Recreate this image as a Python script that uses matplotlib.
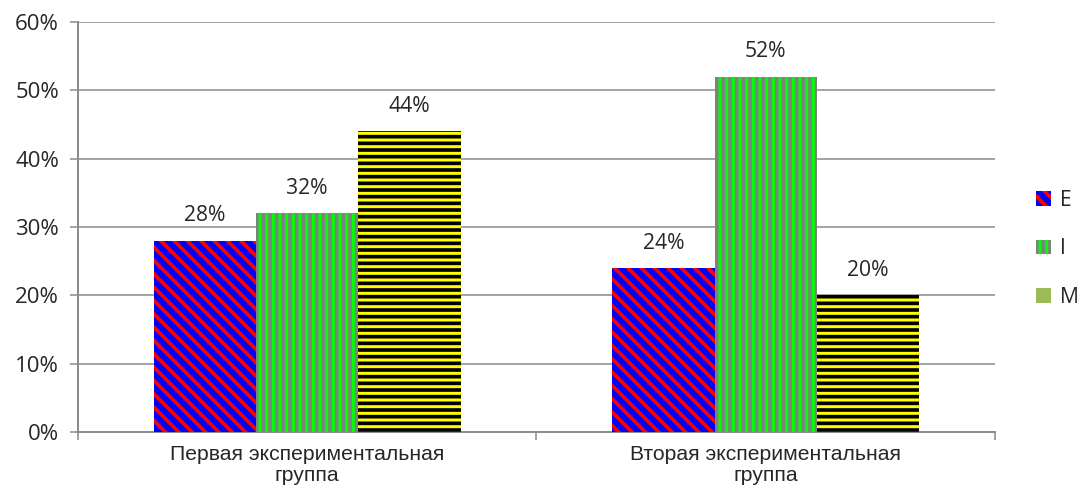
import numpy as np
import matplotlib
matplotlib.use('Agg')
import matplotlib.pyplot as plt
from matplotlib.patches import Patch
from matplotlib.ticker import PercentFormatter

# data
groups = ['Первая экспериментальная\nгруппа', 'Вторая экспериментальная\nгруппа']
series = ['E', 'I', 'M']
values_e = [28, 24]
values_i = [32, 52]
values_m = [44, 20]

plt.rcParams['font.family'] = ['Open Sans', 'DejaVu Sans']
plt.rcParams['hatch.linewidth'] = 3.3

# dpi 80 so the hatch cell (one inch) gives stripe spacing close to the original
DPI = 80
fig = plt.figure(figsize=(1080 / DPI, 486 / DPI), dpi=DPI)
ax = fig.add_axes([0.0722, 0.111, 0.8491, 0.8436])

x = np.arange(len(groups))
w = 0.223
styles = [
    dict(color='#0000ff', edgecolor='#ff0000', hatch='\\\\'),
    dict(color='#00ff00', edgecolor='#808080', hatch='||'),
    dict(color='#ffff00', edgecolor='#000000', hatch='--'),
]
for j, vals in enumerate([values_e, values_i, values_m]):
    bars = ax.bar(x + (j - 1) * w, vals, w, linewidth=0, zorder=3, **styles[j])
    for b, v in zip(bars, vals):
        ax.annotate(f'{v}%', (b.get_x() + b.get_width() / 2, v), xytext=(0, 13),
                    textcoords='offset points', ha='center', va='bottom',
                    fontsize=19, color='#262626')

ax.set_ylim(0, 60)
ax.set_xlim(-0.5, 1.5)
ax.set_yticks(range(0, 61, 10))
ax.yaxis.set_major_formatter(PercentFormatter(decimals=0))
ax.grid(axis='y', color='#8c8c8c', linewidth=1.4, zorder=0)

ax.set_xticks([-0.5, 0.5, 1.5])
ax.set_xticklabels([])
ax.set_xticks(x, minor=True)
ax.set_xticklabels(groups, minor=True, fontsize=19, linespacing=1.12,
                   family=['Liberation Sans', 'DejaVu Sans'], color='#262626')
ax.tick_params(axis='x', which='minor', length=0, pad=12)
ax.tick_params(axis='x', which='major', length=7, width=1.4, color='#8c8c8c')
ax.tick_params(axis='y', length=7, width=1.4, color='#8c8c8c', labelsize=20,
               pad=10, labelcolor='#262626')

for s in ['top', 'right']:
    ax.spines[s].set_visible(False)
for s in ['left', 'bottom']:
    ax.spines[s].set_color('#8c8c8c')
    ax.spines[s].set_linewidth(1.8)

handles = [
    Patch(facecolor='#0000ff', edgecolor='#ff0000', hatch='\\\\', linewidth=0),
    Patch(facecolor='#00ff00', edgecolor='#808080', hatch='||', linewidth=0),
    Patch(facecolor='#9bbb59', linewidth=0),
]
fig.legend(handles, series, loc='center left', bbox_to_anchor=(0.942, 0.488),
           frameon=False, fontsize=19, labelspacing=1.3, handlelength=0.67,
           handleheight=0.67, handletextpad=0.45, labelcolor='#262626')

fig.savefig('out.png', dpi=DPI)
